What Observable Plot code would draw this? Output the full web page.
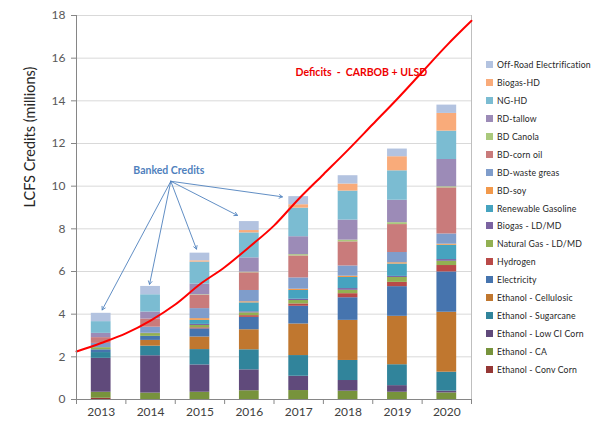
<!DOCTYPE html>
<html>
<head>
<meta charset="utf-8">
<script src="https://cdn.jsdelivr.net/npm/d3@7"></script>
<script src="https://cdn.jsdelivr.net/npm/@observablehq/plot@0.6"></script>
<style>
  html, body { margin: 0; padding: 0; background: #fff; }
  #wrap { position: relative; width: 594px; height: 424px; font-family: Lato, "Liberation Sans", sans-serif; }
  #legend { position: absolute; left: 486px; top: 56px; }
  .li { height: 17.9px; display: flex; align-items: center; font-size: 8.7px; letter-spacing: 0.15px; color: #262626; white-space: nowrap; }
  .sw { width: 7px; height: 7px; margin-right: 4px; flex: none; }
</style>
</head>
<body>
<div id="wrap"><div id="legend"></div></div>
<script>
// ---- Data (millions of credits), bottom-to-top stacking order ----
const years = [2013, 2014, 2015, 2016, 2017, 2018, 2019, 2020];

const ethanolConvCorn    = [0.06, 0, 0, 0, 0, 0, 0, 0];
const ethanolCA          = [0.28, 0.30, 0.34, 0.41, 0.42, 0.39, 0.34, 0.31];
const ethanolLowCICorn   = [1.59, 1.75, 1.28, 0.98, 0.67, 0.50, 0.31, 0.08];
const ethanolSugarcane   = [0.27, 0.45, 0.72, 0.94, 0.97, 0.94, 0.98, 0.89];
const ethanolCellulosic  = [0, 0.27, 0.59, 0.94, 1.48, 1.88, 2.27, 2.81];
const electricity        = [0.13, 0.19, 0.38, 0.58, 0.83, 1.06, 1.39, 1.89];
const hydrogen           = [0, 0, 0.05, 0.08, 0.11, 0.19, 0.20, 0.30];
const naturalGasLDMD     = [0.10, 0.13, 0.11, 0.13, 0.16, 0.16, 0.23, 0.20];
const biogasLDMD         = [0, 0.02, 0.05, 0.05, 0.06, 0.08, 0.05, 0.08];
const renewableGasoline  = [0, 0, 0.19, 0.42, 0.41, 0.52, 0.58, 0.67];
const bdSoy              = [0, 0, 0.08, 0.05, 0.06, 0.06, 0.06, 0.05];
const bdWasteGrease      = [0.20, 0.28, 0.47, 0.53, 0.53, 0.48, 0.48, 0.48];
const bdCornOil          = [0.27, 0.38, 0.63, 0.83, 1.03, 1.13, 1.31, 2.16];
const bdCanola           = [0, 0, 0.02, 0.03, 0.06, 0.08, 0.09, 0.05];
const rdTallow           = [0.20, 0.33, 0.50, 0.67, 0.84, 0.94, 1.05, 1.28];
const ngHD               = [0.55, 0.81, 1.03, 1.17, 1.34, 1.36, 1.38, 1.33];
const biogasHD           = [0, 0, 0.06, 0.11, 0.16, 0.33, 0.66, 0.83];
const offRoadElectrif    = [0.39, 0.39, 0.36, 0.42, 0.38, 0.39, 0.36, 0.39];

const fuels = [
  "Ethanol - Conv Corn", "Ethanol - CA", "Ethanol - Low CI Corn", "Ethanol - Sugarcane",
  "Ethanol - Cellulosic", "Electricity", "Hydrogen", "Natural Gas - LD/MD", "Biogas - LD/MD",
  "Renewable Gasoline", "BD-soy", "BD-waste greas", "BD-corn oil", "BD Canola", "RD-tallow",
  "NG-HD", "Biogas-HD", "Off-Road Electrification"
];
const seriesValues = [
  ethanolConvCorn, ethanolCA, ethanolLowCICorn, ethanolSugarcane, ethanolCellulosic,
  electricity, hydrogen, naturalGasLDMD, biogasLDMD, renewableGasoline, bdSoy,
  bdWasteGrease, bdCornOil, bdCanola, rdTallow, ngHD, biogasHD, offRoadElectrif
];
const colors = [
  "#953735", "#77933c", "#604a7b", "#31849b", "#c0772f", "#4674ae", "#b94a48", "#92b052",
  "#7b63a1", "#46a3bf", "#f2994b", "#7f9dcb", "#c97b7b", "#aac97c", "#9c8bb7", "#7bbcd2",
  "#f9ab7a", "#b3c3e0"
];

// Deficit line (CARBOB + ULSD), millions
const deficitYears  = [2012.5, 2013, 2013.5, 2014, 2014.5, 2015, 2015.5, 2016, 2016.5, 2017, 2017.5, 2018, 2018.5, 2019, 2019.5, 2020, 2020.5];
const deficitValues = [2.25, 2.65, 3.1, 3.7, 4.45, 5.4, 6.2, 7.15, 8.15, 9.4, 10.55, 11.7, 12.9, 14.1, 15.35, 16.6, 17.75];

// Axis ticks
const yTicks = [0, 2, 4, 6, 8, 10, 12, 14, 16, 18];
const categoryEdges = [2012.5, 2013.5, 2014.5, 2015.5, 2016.5, 2017.5, 2018.5, 2019.5, 2020.5];

// Annotations
const bankedLabel = {year: 2014.37, value: 10.74, text: "Banked Credits"};
const bankedFrom  = {year: 2014.41, value: 10.23};
const bankedTargets = [
  {year: 2013.02, value: 4.2},
  {year: 2013.98, value: 5.4},
  {year: 2014.93, value: 7.05},
  {year: 2015.76, value: 8.63},
  {year: 2016.67, value: 9.5}
];
const deficitLabel = {year: 2018.27, value: 15.33, text: "Deficits  -  CARBOB + ULSD"};

// ---- Build stacked table ----
const stacked = [];
years.forEach((yr, i) => {
  let acc = 0;
  fuels.forEach((f, k) => {
    const v = seriesValues[k][i];
    stacked.push({year: yr, fuel: f, y1: acc, y2: acc + v});
    acc += v;
  });
});
const deficit = deficitYears.map((y, i) => ({year: y, value: deficitValues[i]}));
const halfBar = 0.2;

const chart = Plot.plot({
  width: 594,
  height: 424,
  marginLeft: 76,
  marginRight: 123,
  marginTop: 15,
  marginBottom: 25,
  style: {fontFamily: "Lato, 'Liberation Sans', sans-serif", background: "white", overflow: "visible"},
  x: {domain: [2012.5, 2020.5], axis: null},
  y: {domain: [0, 18], axis: null},
  color: {domain: fuels, range: colors},
  marks: [
    Plot.gridY(yTicks.filter(v => v > 0), {stroke: "#d9d9d9", strokeOpacity: 1, strokeWidth: 1}),
    Plot.ruleX([2020.5], {stroke: "#bfbfbf"}),
    Plot.rect(stacked, {
      x1: d => d.year - halfBar, x2: d => d.year + halfBar,
      y1: "y1", y2: "y2", fill: "fuel"
    }),
    Plot.line(deficit, {x: "year", y: "value", stroke: "#ff0000", strokeWidth: 2, curve: "monotone-x"}),
    Plot.ruleX([2012.5], {stroke: "#868686"}),
    Plot.ruleY([0], {stroke: "#868686"}),
    Plot.axisY({ticks: yTicks, tickSize: 5, tickPadding: 6, fontSize: 12, color: "#595959", stroke: "#868686", label: null}),
    Plot.axisX({ticks: categoryEdges, tickSize: 5, tickFormat: () => "", stroke: "#868686", label: null}),
    Plot.axisX({ticks: years, tickSize: 0, tickPadding: 8, fontSize: 12, color: "#404040", tickFormat: d => String(d), label: null}),
    Plot.text(["LCFS Credits (millions)"], {frameAnchor: "left", rotate: -90, dx: -46, fontSize: 14.5, fill: "#262626"}),
    Plot.arrow(bankedTargets, {
      x1: () => bankedFrom.year, y1: () => bankedFrom.value,
      x2: "year", y2: "value", stroke: "#4f81bd", strokeWidth: 0.9, headLength: 6
    }),
    Plot.text([bankedLabel], {x: "year", y: "value", text: "text", fill: "#4f81bd", fontWeight: "bold", fontSize: 10.5}),
    Plot.text([deficitLabel], {x: "year", y: "value", text: "text", fill: "#ee0000", fontWeight: "bold", fontSize: 10.5})
  ]
});
document.getElementById("wrap").prepend(chart);

// Legend (top-to-bottom = reverse stacking order)
const legend = d3.select("#legend");
fuels.slice().reverse().forEach(f => {
  const row = legend.append("div").attr("class", "li");
  row.append("div").attr("class", "sw").style("background", colors[fuels.indexOf(f)]);
  row.append("span").text(f);
});
</script>
</body>
</html>
